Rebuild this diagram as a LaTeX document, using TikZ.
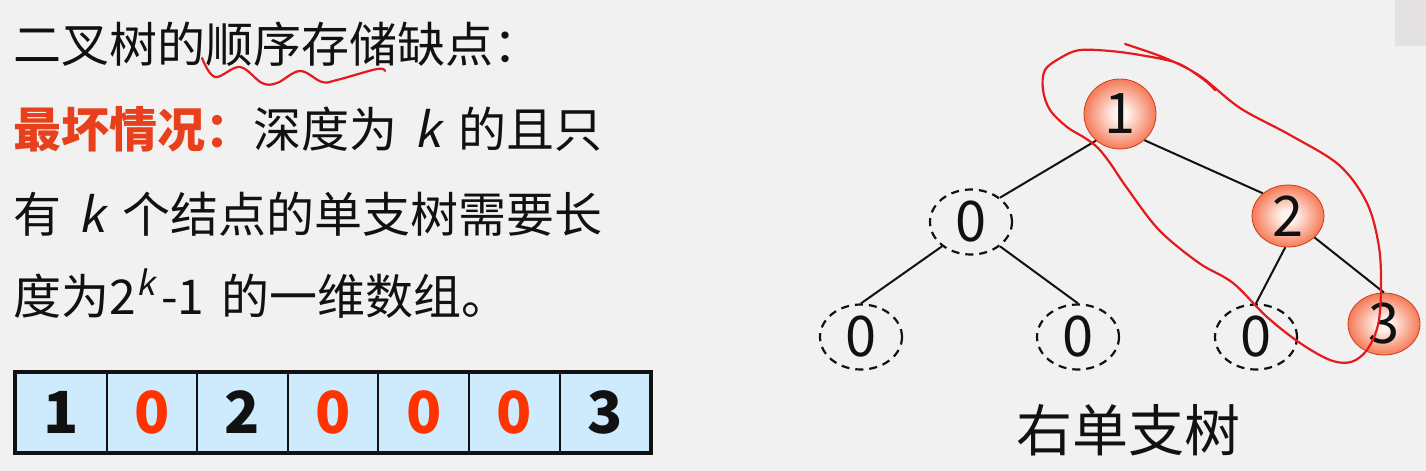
\documentclass[tikz,border=0pt]{standalone}
\usepackage{fontspec}
\setmainfont{Noto Sans CJK SC}[AutoFakeSlant=0.2]
\usepackage{xcolor}
\usepackage{tikz}
\usetikzlibrary{shapes.geometric, positioning}
\definecolor{bggray}{HTML}{F1F1F1}
\definecolor{cornergray}{HTML}{E3E1E1}
\definecolor{inkblack}{HTML}{111111}
\definecolor{warnred}{HTML}{E8401C}
\definecolor{zerored}{HTML}{FF3300}
\definecolor{cellblue}{HTML}{CDEBFC}
\definecolor{ballin}{HTML}{FFF2EE}
\definecolor{ballmid}{HTML}{F6805E}
\definecolor{ballout}{HTML}{EC4A22}
\definecolor{penred}{HTML}{E41A1C}
\pgfdeclareradialshading{ballshade}{\pgfpoint{0bp}{0bp}}{color(0bp)=(ballin); color(5bp)=(ballin); color(24bp)=(ballmid); color(40bp)=(ballout); color(50bp)=(ballout)}
\newcommand{\bodysize}{\fontsize{24pt}{29pt}\selectfont}
\newcommand{\nodesize}{\fontsize{28pt}{32pt}\selectfont}
\newcommand{\cellsize}{\fontsize{29pt}{33pt}\selectfont}
\newcommand{\gap}{\hspace{0.36em}}

\begin{document}
\begin{tikzpicture}[
  x=0.5pt, y=-0.5pt,
  txt/.style={inner sep=0pt, font=\bodysize, text=inkblack, anchor=base west},
  ball/.style={ellipse, shading=ballshade, draw=ballout!85!black, line width=0.4pt,
    minimum width=36pt, minimum height=35pt, inner sep=0pt, font=\nodesize, text=inkblack},
  nullnode/.style={ellipse, draw=inkblack, line width=1.1pt, dash pattern=on 4pt off 3pt,
    minimum width=41pt, minimum height=32.5pt, inner sep=0pt, font=\nodesize, text=inkblack},
  edge/.style={draw=inkblack, line width=1pt},
  cell/.style={rectangle, draw=inkblack, line width=1pt, fill=cellblue,
    minimum width=45.3pt, minimum height=39.5pt, inner sep=0pt, font=\cellsize\bfseries},
  pen/.style={draw=penred, line width=1.1pt, line cap=round, line join=round},
]
  \fill[bggray] (0,0) rectangle (1426,471);
  \useasboundingbox (0,0) rectangle (1426,471);
  \fill[cornergray] (1395,0) rectangle (1426,46);

  \node[txt] (line1) at (13,62) {二叉树的顺序存储缺点：};
  \node[txt, below=42.5pt of line1.base west, anchor=base west] (line2)
    {\textcolor{warnred}{\bfseries 最坏情况：}深度为\gap\textit{k}\gap 的且只};
  \node[txt, below=42.5pt of line2.base west, anchor=base west] (line3)
    {有\gap\textit{k}\gap 个结点的单支树需要长};
  \node[txt, below=41pt of line3.base west, anchor=base west] (line4)
    {度为2\textsuperscript{\itshape k\,}-1\gap 的一维数组。};

  \foreach \v/\col [count=\i] in {1/inkblack,0/zerored,2/inkblack,0/zerored,0/zerored,0/zerored,3/inkblack}
    \node[cell, text=\col] (c\i) at ({61.3+90.6*(\i-1)},412.5) {\v};
  \draw[inkblack, line width=2pt] (c1.north west) rectangle (c7.south east);

  \node[ball] (n1) at (1120,114) {1};
  \node[ball, minimum height=31pt] (n2) at (1288,216) {2};
  \node[ball, minimum height=31pt] (n3) at (1384,324) {3};
  \node[nullnode] (l1) at (971,222) {0};
  \node[nullnode] (ll) at (861,337) {0};
  \node[nullnode] (lr) at (1078,337) {0};
  \node[nullnode] (rl) at (1256,337) {0};
  \node[font=\nodesize, text=inkblack] (cap) at (1128,430) {右单支树};

  \draw[edge] (n1.228) -- (l1.40);
  \draw[edge] (n1.313) -- (n2.138);
  \draw[edge] (l1.220) -- (ll.north);
  \draw[edge] (l1.320) -- (lr.north);
  \draw[edge] (n2.265) -- (rl.north);
  \draw[edge] (n2.321) -- (n3.north);

  \draw[pen] plot[smooth, tension=0.6] coordinates {
    (202,58) (215,77) (240,67) (262,83) (277,83) (300,71) (322,82) (337,80) (377,69) (385,71)};
  \draw[pen] plot[smooth, tension=0.55] coordinates {
    (1125,44) (1165,58) (1200,76) (1240,108) (1290,135) (1339,165) (1367,203) (1379,247)
    (1381,290) (1378,325) (1367,350) (1351,362) (1330,360) (1300,343) (1267,317) (1233,283)
    (1199,263) (1159,230) (1127,188) (1110,163) (1098,148) (1085,138) (1067,127) (1050,110)
    (1043,90) (1045,70) (1062,57) (1080,50) (1110,51) (1140,55) (1177,63) (1203,79) (1215,90)};
\end{tikzpicture}
\end{document}
